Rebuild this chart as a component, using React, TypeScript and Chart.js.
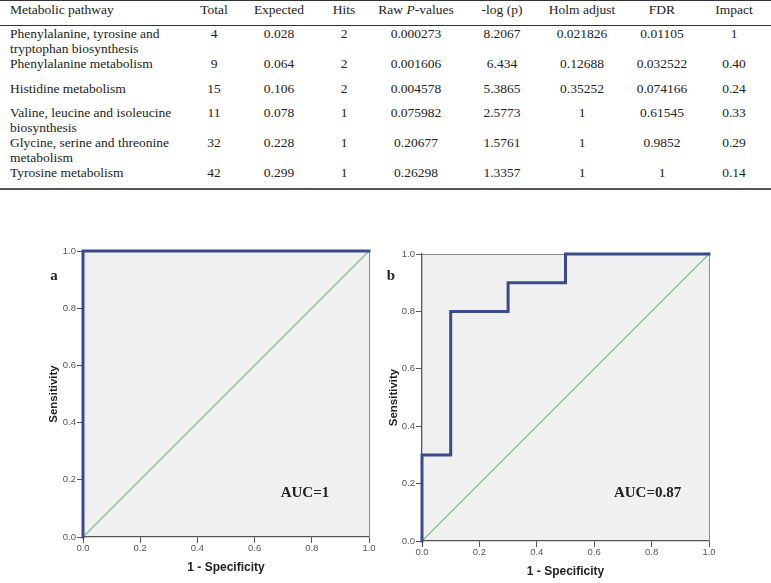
import React, { useEffect, useRef } from "react";
import { Chart, registerables } from "chart.js";

Chart.register(...registerables);

// ---------------- Table data ----------------
const headers = ["Metabolic pathway", "Total", "Expected", "Hits", "Raw P-values", "-log (p)", "Holm adjust", "FDR", "Impact"];
const pathways = [
  ["Phenylalanine, tyrosine and", "tryptophan biosynthesis"],
  ["Phenylalanine metabolism"],
  ["Histidine metabolism"],
  ["Valine, leucine and isoleucine", "biosynthesis"],
  ["Glycine, serine and threonine", "metabolism"],
  ["Tyrosine metabolism"],
];
const totals = ["4", "9", "15", "11", "32", "42"];
const expected = ["0.028", "0.064", "0.106", "0.078", "0.228", "0.299"];
const hits = ["2", "2", "2", "1", "1", "1"];
const rawP = ["0.000273", "0.001606", "0.004578", "0.075982", "0.20677", "0.26298"];
const negLogP = ["8.2067", "6.434", "5.3865", "2.5773", "1.5761", "1.3357"];
const holm = ["0.021826", "0.12688", "0.35252", "1", "1", "1"];
const fdr = ["0.01105", "0.032522", "0.074166", "0.61545", "0.9852", "1"];
const impact = ["1", "0.40", "0.24", "0.33", "0.29", "0.14"];

// ---------------- ROC data ----------------
const axisTicks = [0, 0.2, 0.4, 0.6, 0.8, 1.0];
const rocA_fpr = [0, 0, 1];
const rocA_tpr = [0, 1, 1];
const rocB_fpr = [0, 0, 0.1, 0.1, 0.3, 0.3, 0.5, 0.5, 1];
const rocB_tpr = [0, 0.3, 0.3, 0.8, 0.8, 0.9, 0.9, 1, 1];
const diagonal = [0, 1];
const aucTextA = "AUC=1";
const aucTextB = "AUC=0.87";
const aucPosA = [0.776, 0.154];
const aucPosB = [0.786, 0.167];
const panelLabels = ["a", "b"];

// ---------------- Layout ----------------
const colCenters = [0, 214, 279, 344, 416, 502, 582, 662, 734];
const headerY = 9;
const rowY = [33, 63, 88, 112, 142, 172];
const LINE = 15;
const tableFont = "'Liberation Serif', 'Times New Roman', serif";

const NAVY = "#3b4a8c";
const GREEN = "#7cc28b";

function Cell({ text, col, y }: { text: React.ReactNode; col: number; y: number }) {
  if (col === 0) {
    return (
      <div style={{ position: "absolute", left: 10, top: y - LINE / 2, lineHeight: LINE + "px", whiteSpace: "nowrap" }}>
        {text}
      </div>
    );
  }
  return (
    <div
      style={{
        position: "absolute",
        left: colCenters[col] - 60,
        width: 120,
        top: y - LINE / 2,
        lineHeight: LINE + "px",
        textAlign: "center",
        whiteSpace: "nowrap",
      }}
    >
      {text}
    </div>
  );
}

function Table() {
  const cols = [totals, expected, hits, rawP, negLogP, holm, fdr, impact];
  const cells: React.ReactNode[] = [];
  headers.forEach((h, i) => {
    const t =
      h === "Raw P-values" ? (
        <span>
          Raw <i>P</i>-values
        </span>
      ) : (
        h
      );
    cells.push(<Cell key={"h" + i} text={t} col={i} y={headerY} />);
  });
  pathways.forEach((lines, r) => {
    lines.forEach((ln, k) => {
      cells.push(<Cell key={"p" + r + "_" + k} text={ln} col={0} y={rowY[r] + k * LINE} />);
    });
    cols.forEach((arr, c) => {
      cells.push(<Cell key={"c" + r + "_" + c} text={arr[r]} col={c + 1} y={rowY[r]} />);
    });
  });
  return (
    <div style={{ position: "absolute", left: 0, top: 0, width: 771, height: 192, fontFamily: tableFont, fontSize: 13.5, color: "#222" }}>
      <div style={{ position: "absolute", left: 0, top: 0, width: 771, height: 1, background: "#333" }} />
      <div style={{ position: "absolute", left: 0, top: 25, width: 771, height: 1, background: "#333" }} />
      <div style={{ position: "absolute", left: 0, top: 188, width: 771, height: 2, background: "#555" }} />
      {cells}
    </div>
  );
}

type RocProps = {
  left: number;
  top: number;
  width: number;
  height: number;
  yAxisWidth: number;
  xAxisHeight: number;
  padTop: number;
  padRight: number;
  xTitlePad: number;
  fpr: number[];
  tpr: number[];
  auc: string;
  aucPos: number[];
};

function RocChart(p: RocProps) {
  const ref = useRef<HTMLCanvasElement>(null);
  useEffect(() => {
    const decor = {
      id: "rocDecor",
      beforeDraw(chart: any) {
        const { ctx, chartArea: a } = chart;
        ctx.save();
        ctx.fillStyle = "#f0f0f0";
        ctx.fillRect(a.left, a.top, a.right - a.left, a.bottom - a.top);
        ctx.restore();
      },
      beforeDatasetsDraw(chart: any) {
        const { ctx, chartArea: a } = chart;
        ctx.save();
        ctx.strokeStyle = "#8c8c8c";
        ctx.lineWidth = 1;
        ctx.beginPath();
        ctx.moveTo(a.left, a.top + 0.5);
        ctx.lineTo(a.right + 0.5, a.top + 0.5);
        ctx.lineTo(a.right + 0.5, a.bottom);
        ctx.stroke();
        ctx.restore();
      },
      afterDatasetsDraw(chart: any) {
        const { ctx, scales } = chart;
        const x = scales.x.getPixelForValue(p.aucPos[0]);
        const y = scales.y.getPixelForValue(p.aucPos[1]);
        ctx.save();
        ctx.font = "bold 15px 'Liberation Serif', serif";
        ctx.fillStyle = "#222";
        ctx.textAlign = "center";
        ctx.textBaseline = "middle";
        ctx.fillText(p.auc, x, y);
        ctx.restore();
      },
    };

    const tickFont = { family: "'Liberation Sans', Arial, sans-serif", size: 9.5 };
    const titleFont = { family: "'Liberation Sans', Arial, sans-serif", size: 12, weight: "bold" as const };

    const chart = new Chart(ref.current!, {
      type: "line",
      data: {
        datasets: [
          {
            data: p.fpr.map((x, i) => ({ x, y: p.tpr[i] })),
            borderColor: NAVY,
            borderWidth: 3,
            pointRadius: 0,
            tension: 0,
            clip: false as any,
            borderJoinStyle: "miter",
            borderCapStyle: "square",
            order: 0,
          },
          {
            data: diagonal.map((v) => ({ x: v, y: v })),
            borderColor: GREEN,
            borderWidth: 1.3,
            pointRadius: 0,
            tension: 0,
            clip: false as any,
            order: 1,
          },
        ],
      },
      options: {
        responsive: false,
        animation: false,
        events: [],
        layout: { padding: { top: p.padTop, right: p.padRight, left: 0, bottom: 0 } },
        plugins: { legend: { display: false }, tooltip: { enabled: false } },
        scales: {
          x: {
            type: "linear",
            min: 0,
            max: 1,
            afterBuildTicks: (s: any) => {
              s.ticks = axisTicks.map((v) => ({ value: v }));
            },
            afterFit: (s: any) => {
              s.height = p.xAxisHeight;
            },
            ticks: { font: tickFont, color: "#555", padding: 0, callback: (v: any) => Number(v).toFixed(1), maxRotation: 0 },
            grid: { drawOnChartArea: false, drawTicks: true, tickLength: 6, tickColor: "#555" },
            border: { display: true, color: "#555", width: 1.3 },
            title: { display: true, text: "1 - Specificity", font: titleFont, color: "#222", padding: { top: 0, bottom: p.xTitlePad } },
          },
          y: {
            type: "linear",
            min: 0,
            max: 1,
            afterBuildTicks: (s: any) => {
              s.ticks = axisTicks.map((v) => ({ value: v }));
            },
            afterFit: (s: any) => {
              s.width = p.yAxisWidth;
            },
            ticks: { font: tickFont, color: "#555", padding: 1, callback: (v: any) => Number(v).toFixed(1) },
            grid: { drawOnChartArea: false, drawTicks: true, tickLength: 6, tickColor: "#555" },
            border: { display: true, color: "#555", width: 1.3 },
            title: { display: true, text: "Sensitivity", font: { ...titleFont, size: 11.5 }, color: "#222", padding: { top: 17, bottom: 0 } },
          },
        },
      },
      plugins: [decor],
    } as any);
    return () => chart.destroy();
  }, []);
  return (
    <canvas
      ref={ref}
      width={p.width}
      height={p.height}
      style={{ position: "absolute", left: p.left, top: p.top, width: p.width, height: p.height }}
    />
  );
}

export default function App() {
  return (
    <div style={{ position: "absolute", left: 0, top: 0, width: 771, height: 583, overflow: "hidden", background: "#fff" }}>
      <Table />
      <RocChart
        left={30}
        top={240}
        width={350}
        height={343}
        yAxisWidth={53}
        xAxisHeight={46}
        padTop={11}
        padRight={11}
        xTitlePad={8}
        fpr={rocA_fpr}
        tpr={rocA_tpr}
        auc={aucTextA}
        aucPos={aucPosA}
      />
      <RocChart
        left={370}
        top={243}
        width={350}
        height={340}
        yAxisWidth={52}
        xAxisHeight={42}
        padTop={11}
        padRight={11}
        xTitlePad={4}
        fpr={rocB_fpr}
        tpr={rocB_tpr}
        auc={aucTextB}
        aucPos={aucPosB}
      />
      <div style={{ position: "absolute", left: 48, top: 266, width: 12, textAlign: "center", font: "bold 15px 'Liberation Serif', serif", color: "#222", lineHeight: "18px" }}>
        {panelLabels[0]}
      </div>
      <div style={{ position: "absolute", left: 385, top: 266, width: 12, textAlign: "center", font: "bold 15px 'Liberation Serif', serif", color: "#222", lineHeight: "18px" }}>
        {panelLabels[1]}
      </div>
    </div>
  );
}
